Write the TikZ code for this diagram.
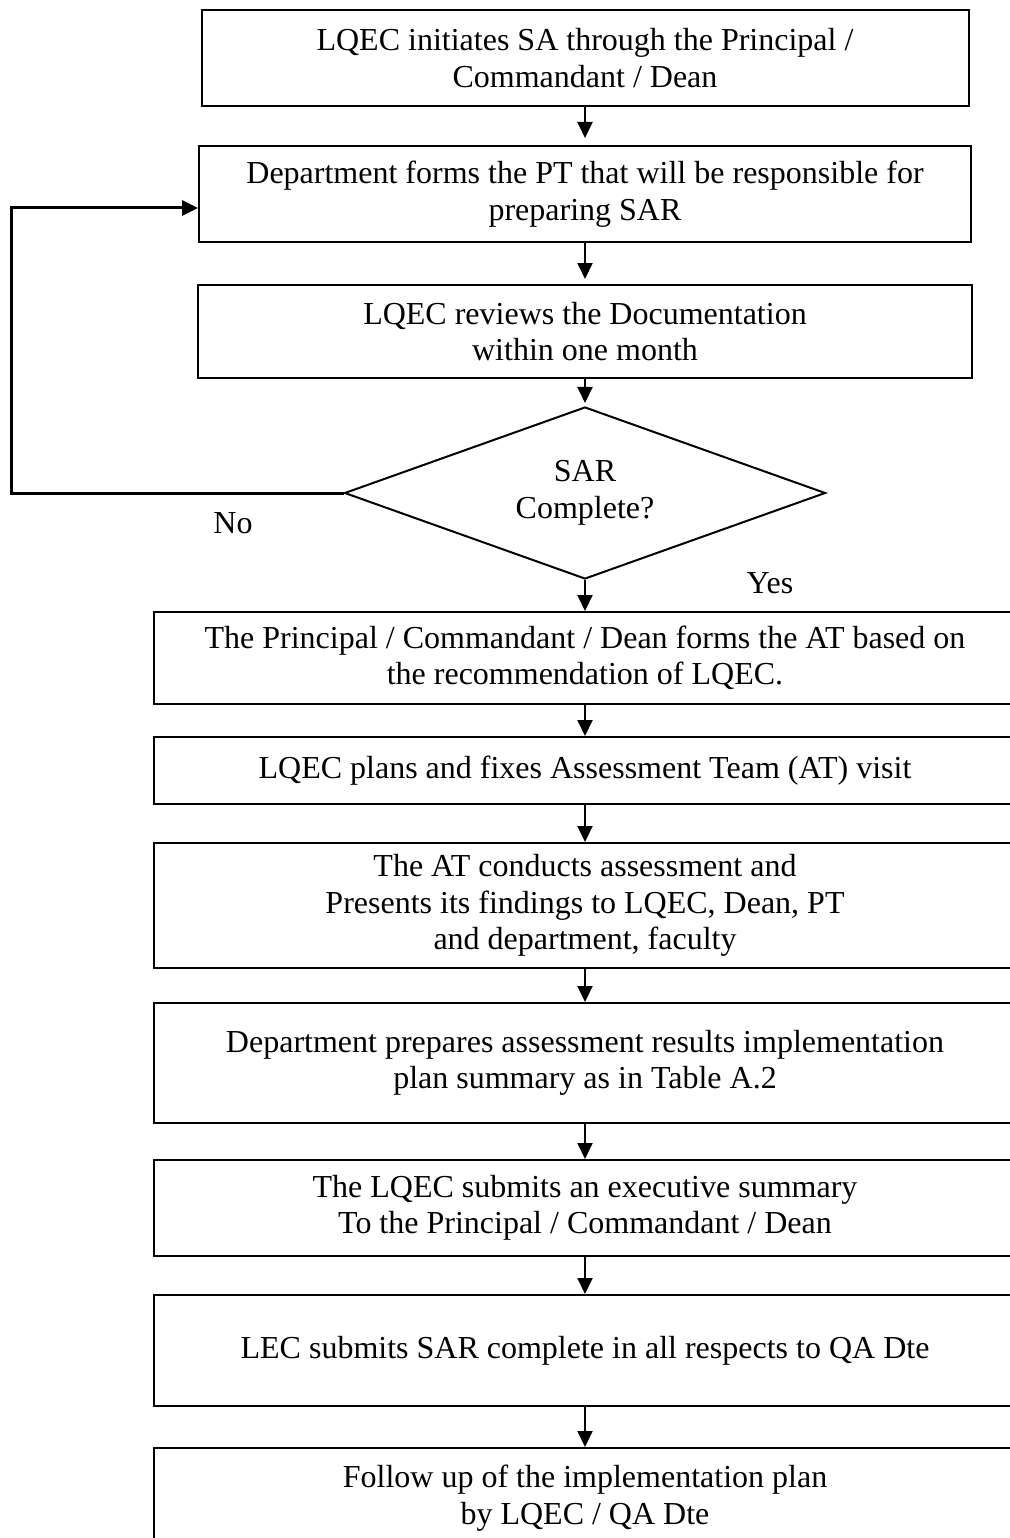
\documentclass[tikz,border=0pt]{standalone}
\usepackage{fontspec}
\setmainfont{Liberation Serif}
\usetikzlibrary{shapes.geometric,arrows.meta}

\begin{document}
\begin{tikzpicture}[x=1pt,y=-1pt,
		font=\fontsize{32}{36.5}\selectfont,
		stepbox/.style={draw,line width=2pt,align=center,inner sep=0pt},
		flow/.style={line width=2pt,-{Triangle[width=15pt,length=16pt]}}]
		\useasboundingbox (0,0) rectangle (1009,1538);
		\node[stepbox,minimum width=767pt,minimum height=96pt] (init) at (585,58)
		{LQEC initiates SA through the Principal /\\Commandant / Dean};
		\node[stepbox,minimum width=772pt,minimum height=96pt] (team) at (585,194)
		{Department forms the PT that will be responsible for\\preparing SAR};
		\node[stepbox,minimum width=774pt,minimum height=93pt] (review) at (585,331.5)
		{LQEC reviews the Documentation\\within one month};
		\node[draw,line width=2pt,diamond,aspect=2.8,inner sep=0pt,align=center,
		minimum width=481pt,minimum height=172pt] (check) at (585,493)
		{SAR\\Complete?};
		\node[stepbox,minimum width=862pt,minimum height=92pt] (form) at (585,658)
		{The Principal / Commandant / Dean forms the AT based on\\the recommendation of LQEC.};
		\node[stepbox,minimum width=862pt,minimum height=67pt] (plan) at (585,770.5)
		{LQEC plans and fixes Assessment Team (AT) visit};
		\node[stepbox,minimum width=862pt,minimum height=125pt] (visit) at (585,905.5)
		{The AT conducts assessment and\\Presents its findings to LQEC, Dean, PT\\and department, faculty};
		\node[stepbox,minimum width=862pt,minimum height=120pt] (prepare) at (585,1063)
		{Department prepares assessment results implementation\\plan summary as in Table A.2};
		\node[stepbox,minimum width=862pt,minimum height=96pt] (summary) at (585,1208)
		{The LQEC submits an executive summary\\To the Principal / Commandant / Dean};
		\node[stepbox,minimum width=862pt,minimum height=111pt] (submit) at (585,1350.5)
		{LEC submits SAR complete in all respects to QA Dte};
		\node[stepbox,minimum width=862pt,minimum height=100pt] (follow) at (585,1498)
		{Follow up of the implementation plan\\by LQEC / QA Dte};
		\node (no) at (233,523) {No};
		\node (yes) at (770,583) {Yes};
		\coordinate (back) at (11,208);
		\draw[flow,shorten >=7pt] (init) -- (team);
		\draw[flow,shorten >=5pt] (team) -- (review);
		\draw[flow,shorten >=3pt] (review) -- (check);
		\draw[flow] (check) -- (form);
		\draw[flow] (form) -- (plan);
		\draw[flow] (plan) -- (visit);
		\draw[flow] (visit) -- (prepare);
		\draw[flow] (prepare) -- (summary);
		\draw[flow] (summary) -- (submit);
		\draw[flow] (submit) -- (follow);
		\draw[flow,line width=3pt] (check.west) -| (back) -- (back -| team.west);
\end{tikzpicture}
\end{document}
